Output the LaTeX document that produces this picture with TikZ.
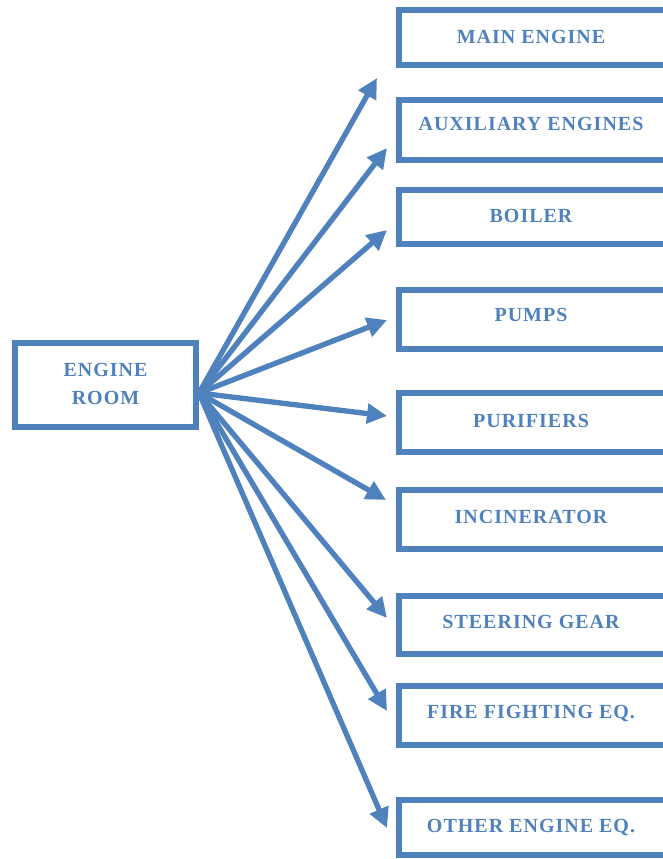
\documentclass[tikz,border=0pt]{standalone}
\usepackage{fontspec}
\setmainfont{Liberation Serif}[LetterSpace=5]
\usetikzlibrary{arrows.meta}
\definecolor{ofblue}{HTML}{4F81BD}
\tikzset{
  itembox/.style={draw=ofblue, line width=4.8pt, fill=white},
  itemtext/.style={text=ofblue, font=\fontsize{15}{21}\selectfont\bfseries, inner sep=0pt, anchor=center},
  link/.style={draw=ofblue, line width=4pt, -{Triangle[length=15pt,width=14.5pt]}, shorten >=0pt},
}
\begin{document}
\begin{tikzpicture}[x=0.75pt,y=-0.75pt]
\useasboundingbox (0,0) rectangle (662,859);
% engine room
\draw[itembox] (15,343) rectangle (196,427);
\node[itemtext] (er1) at (105.5,369.5) {ENGINE};
\node[itemtext] (er2) at (105.5,397.5) {ROOM};
\coordinate (hub) at (199,393);
% right boxes
\draw[itembox] (399,10) rectangle (666,65);
\node[itemtext] (b1) at (531,37) {MAIN ENGINE};
\draw[itembox] (399,100) rectangle (666,160);
\node[itemtext] (b2) at (531,124) {AUXILIARY ENGINES};
\draw[itembox] (399,190) rectangle (666,244);
\node[itemtext] (b3) at (531,216) {BOILER};
\draw[itembox] (399,290) rectangle (666,349);
\node[itemtext] (b4) at (531,315) {PUMPS};
\draw[itembox] (399,393) rectangle (666,452);
\node[itemtext] (b5) at (531,421) {PURIFIERS};
\draw[itembox] (399,490) rectangle (666,549);
\node[itemtext] (b6) at (531,517) {INCINERATOR};
\draw[itembox] (399,596) rectangle (666,654);
\node[itemtext] (b7) at (531,622) {STEERING GEAR};
\draw[itembox] (399,686) rectangle (666,745);
\node[itemtext] (b8) at (531,713) {FIRE FIGHTING EQ.};
\draw[itembox] (399,800) rectangle (666,855);
\node[itemtext] (b9) at (531,827) {OTHER ENGINE EQ.};
% arrow tips
\coordinate (t1) at (377,78);
\coordinate (t2) at (387,148);
\coordinate (t3) at (387,230);
\coordinate (t4) at (387,320);
\coordinate (t5) at (387,416);
\coordinate (t6) at (386,500);
\coordinate (t7) at (387,618);
\coordinate (t8) at (387,711);
\coordinate (t9) at (387,828);
\foreach \i in {1,...,9} {\draw[link] (hub) -- (t\i);}
\end{tikzpicture}
\end{document}
